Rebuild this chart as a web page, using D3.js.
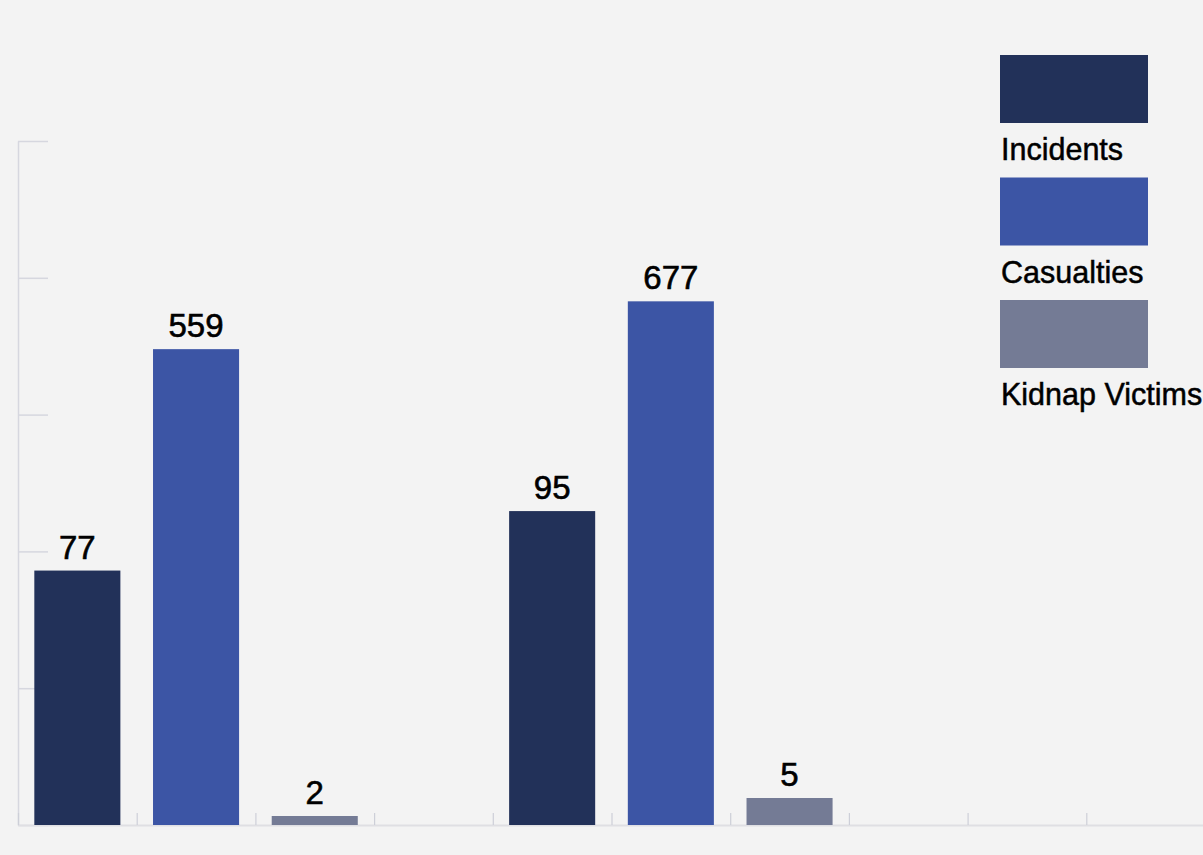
<!DOCTYPE html>
<html>
<head>
<meta charset="utf-8">
<script src="https://cdn.jsdelivr.net/npm/d3@7"></script>
<style>
    html, body { margin: 0; padding: 0; background: #f3f3f3; }
    svg { display: block; font-family: "Liberation Sans", Arial, Helvetica, sans-serif; }
    .axis path, .axis line { fill: none; }
</style>
</head>
<body>
<div id="chart"></div>
<script>
// values, two periods side by side
var seriesNames = ["Incidents", "Casualties", "Kidnap Victims"];
var seriesColors = ["#223159", "#3c55a5", "#747b95"];
var incidents = [77, 95];
var casualties = [559, 677];
var kidnapVictims = [2, 5];
var slotCount = 10; // bands marked on the x axis

(function() {
    var width = 1203,
        height = 855,
        left = 18,
        baseY = 825,
        topY = 141,
        step = 118.7;

    var svg = d3.select("#chart")
                .append("svg")
                .attr("width", width)
                .attr("height", height);

    // every series got its own scale in the original
    var yIncidents = d3.scaleLinear().domain([0, 207]).range([baseY, topY]),
        yCasualties = d3.scaleSqrt().domain([0, 1155]).range([baseY, topY]),
        yKidnap = d3.scaleLinear().domain([0.5, 114.5]).range([baseY, topY]).clamp(true),
        yScales = [yIncidents, yCasualties, yKidnap],
        values = [incidents, casualties, kidnapVictims];

    var x = d3.scaleBand()
              .domain(d3.range(slotCount))
              .range([left, left + step * slotCount])
              .paddingInner(0.275)
              .paddingOuter(0.1375);

    var xTicks = d3.scaleLinear()
                   .domain([0, slotCount])
                   .range([left, left + step * slotCount]);

    var yGrid = d3.scaleLinear().domain([0, 5]).range([baseY, topY]);

    var leftAxis = svg.append("g")
                      .attr("class", "axis")
                      .attr("transform", "translate(" + left + ",0)")
                      .call(d3.axisRight(yGrid).ticks(5).tickSize(30).tickSizeOuter(0).tickFormat(""));
    leftAxis.selectAll("path, line")
            .attr("stroke", "#d6d7df")
            .attr("stroke-width", 1.5);

    var bottomAxis = svg.append("g")
                        .attr("class", "axis")
                        .attr("transform", "translate(0," + baseY + ")")
                        .call(d3.axisBottom(xTicks).tickValues(d3.range(slotCount + 1)).tickSize(-12).tickSizeOuter(0).tickFormat(""));
    bottomAxis.select("path")
              .attr("stroke", "#dfdfe3")
              .attr("stroke-width", 2);
    bottomAxis.selectAll("line")
              .attr("stroke", "#cdcfd8")
              .attr("stroke-width", 1.2);

    //flatten into one record per bar, a gap slot between periods
    var bars = [];
    incidents.forEach(function(d, g) {
        seriesNames.forEach(function(name, s) {
            bars.push({slot : g * (seriesNames.length + 1) + s,
                       series : s,
                       value : values[s][g]});
        });
    });

    var barG = svg.selectAll(".bar")
                  .data(bars)
                  .enter()
                  .append("g")
                  .attr("class", "bar");

    barG.append("rect")
        .attr("x", function(d) {return x(d.slot); })
        .attr("width", x.bandwidth())
        .attr("y", function(d) {return yScales[d.series](d.value); })
        .attr("height", function(d) {return baseY - yScales[d.series](d.value); })
        .style("fill", function(d) {return seriesColors[d.series]; });

    //the labels look a touch heavier than the regular face, thicken a bit
    barG.append("text")
        .attr("x", function(d) {return x(d.slot) + x.bandwidth() / 2; })
        .attr("y", function(d) {return yScales[d.series](d.value) - 12; })
        .attr("text-anchor", "middle")
        .style("font-size", "33px")
        .style("fill", "#000")
        .style("stroke", "#000")
        .style("stroke-width", 0.6)
        .text(function(d) {return d.value; });

    var legend = svg.selectAll(".legendItem")
                    .data(seriesNames)
                    .enter()
                    .append("g")
                    .attr("class", "legendItem")
                    .attr("transform", function(d, i) {return "translate(1000," + (55 + i * 122.5) + ")"; });

    legend.append("rect")
          .attr("width", 148)
          .attr("height", 68)
          .style("fill", function(d, i) {return seriesColors[i]; });

    legend.append("text")
          .attr("x", 1)
          .attr("y", 105)
          .style("font-size", "30.5px")
          .style("fill", "#000")
          .style("stroke", "#000")
          .style("stroke-width", 0.5)
          .text(function(d) {return d; });
})();
</script>
</body>
</html>
